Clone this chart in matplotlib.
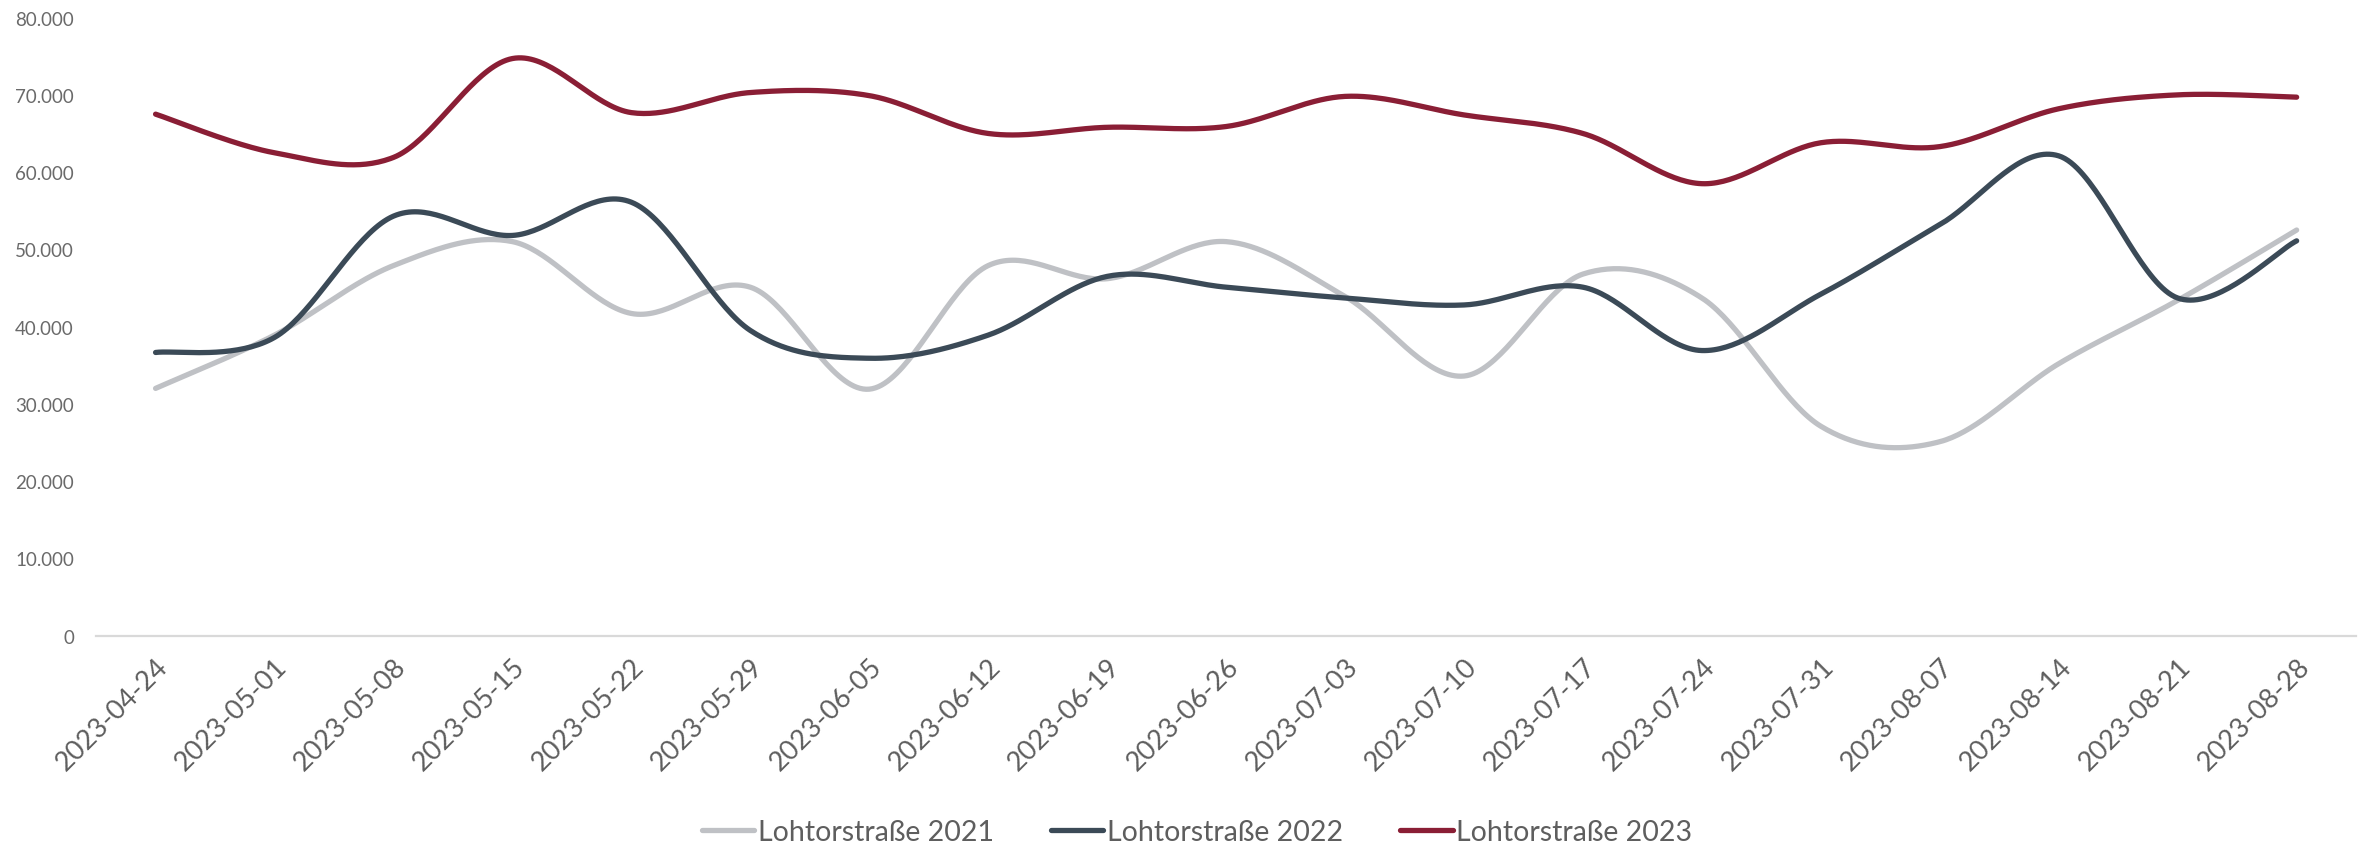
import numpy as np
import matplotlib
matplotlib.use("Agg")
import matplotlib.pyplot as plt
from matplotlib.ticker import FuncFormatter

plt.rcParams['font.family'] = ['Lato', 'DejaVu Sans']

dates = ["2023-04-24", "2023-05-01", "2023-05-08", "2023-05-15", "2023-05-22",
         "2023-05-29", "2023-06-05", "2023-06-12", "2023-06-19", "2023-06-26",
         "2023-07-03", "2023-07-10", "2023-07-17", "2023-07-24", "2023-07-31",
         "2023-08-07", "2023-08-14", "2023-08-21", "2023-08-28"]

lohtor_2021 = [32000, 38900, 47900, 51000, 41700, 45100, 31900, 47900, 46200, 51000,
               43900, 33600, 46800, 43700, 27100, 25100, 35200, 43400, 52500]
lohtor_2022 = [36650, 38600, 54300, 51800, 56100, 39500, 35900, 38900, 46500, 45100,
               43700, 42800, 45100, 36900, 44200, 53200, 62100, 43700, 51100]
lohtor_2023 = [67500, 62500, 61900, 74700, 67700, 70300, 69900, 65000, 65800, 65900,
               69800, 67400, 65000, 58500, 63800, 63300, 68200, 70000, 69700]

series_names = ["Lohtorstraße 2021", "Lohtorstraße 2022", "Lohtorstraße 2023"]
colors = ["#BFC1C5", "#3B4A57", "#8A1E35"]


def smooth(xs, ys, n=40):
    """Catmull-Rom style cubic Bezier smoothing (as in spreadsheet 'smoothed line')."""
    p = np.column_stack([xs, ys]).astype(float)
    ext = np.vstack([p[0], p, p[-1]])
    out = []
    t = np.linspace(0, 1, n)[:, None]
    for i in range(len(p) - 1):
        p0, p1, p2, p3 = ext[i], ext[i + 1], ext[i + 2], ext[i + 3]
        c1 = p1 + (p2 - p0) / 6.0
        c2 = p2 - (p3 - p1) / 6.0
        seg = ((1 - t) ** 3) * p1 + 3 * ((1 - t) ** 2) * t * c1 + 3 * (1 - t) * t ** 2 * c2 + t ** 3 * p2
        out.append(seg if i == 0 else seg[1:])
    out = np.vstack(out)
    return out[:, 0], out[:, 1]


fig = plt.figure(figsize=(23.67, 8.53), dpi=100)
ax = fig.add_axes([0.0406, 0.2537, 0.9548, 0.7245])

x = np.arange(len(dates))
for vals, name, c in zip([lohtor_2021, lohtor_2022, lohtor_2023], series_names, colors):
    sx, sy = smooth(x, vals)
    ax.plot(sx, sy, color=c, lw=3.8, label=name, solid_capstyle='round', solid_joinstyle='round')

ax.set_xlim(-0.5, len(dates) - 0.5)
ax.set_ylim(0, 80000)
ax.set_yticks(np.arange(0, 80001, 10000))
ax.yaxis.set_major_formatter(FuncFormatter(lambda v, p: f"{int(v):,}".replace(",", ".")))
ax.set_xticks(x)
ax.set_xticklabels(dates, rotation=45, ha='right', rotation_mode='anchor')

for s in ['top', 'right', 'left']:
    ax.spines[s].set_visible(False)
ax.spines['bottom'].set_color('#D9D9D9')
ax.spines['bottom'].set_linewidth(1.6)
ax.tick_params(axis='y', length=0, pad=16, labelsize=13.5, labelcolor='#6A6A6A')
ax.tick_params(axis='x', length=0, pad=13, labelsize=19.5, labelcolor='#5E5E5E')

handles, labels = ax.get_legend_handles_labels()
fig.legend(handles, labels, loc='center', bbox_to_anchor=(0.5057, 0.024), ncol=3,
           frameon=False, fontsize=20.5, handlelength=1.85, handletextpad=0.12,
           columnspacing=2.0, labelcolor='#5E5E5E')

fig.savefig("out.png", dpi=100, facecolor='white')
